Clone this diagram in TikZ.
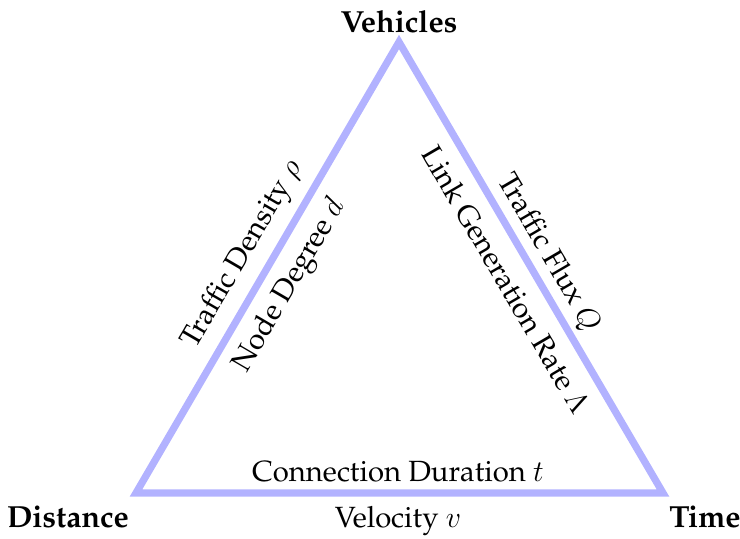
\documentclass[tikz,border=0pt]{standalone}
\usepackage[T1]{fontenc}
\renewcommand{\rmdefault}{ppl}
\begin{document}
\begin{tikzpicture}[x=0.4pt, y=-0.4pt,
  edge/.style={draw=blue!30, line width=2.9pt, line join=miter},
  lbl/.style={inner sep=0pt, font=\fontsize{11.7}{14}\selectfont},
  corner/.style={inner sep=0pt, font=\fontsize{12.2}{14}\selectfont\bfseries}]
\useasboundingbox (0,0) rectangle (740,539);
% triangle corners
\coordinate (V) at (399,42);
\coordinate (D) at (136,493);
\coordinate (T) at (663,493);
\draw[edge] (D) -- (V) -- (T) -- cycle;
% corner labels
\node[corner] (veh) at (399,22) {Vehicles};
\node[corner] (dist) at (68,517) {Distance};
\node[corner] (time) at (705,517) {Time};
% left edge
\node[lbl, rotate=59.75] (dens) at (243,255) {Traffic Density $\rho$};
\node[lbl, rotate=59.75] (deg) at (290,286) {Node Degree $d$};
% right edge
\node[lbl, rotate=-59.75] (flux) at (548,253) {Traffic Flux $Q$};
\node[lbl, rotate=-59.75] (rate) at (506,280) {Link Generation Rate $\Lambda$};
% bottom edge
\node[lbl] (dur) at (398,472) {Connection Duration $t$};
\node[lbl] (vel) at (398,521) {Velocity $v$};
\end{tikzpicture}
\end{document}
